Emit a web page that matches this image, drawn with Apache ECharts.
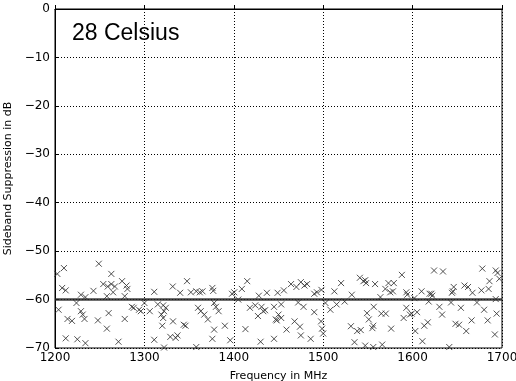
<!DOCTYPE html>
<html>
<head>
<meta charset="utf-8">
<script src="https://cdn.jsdelivr.net/npm/echarts@6/dist/echarts.min.js"></script>
<style>html,body{margin:0;padding:0;background:#fff;}#c{width:516px;height:381px;}</style>
</head>
<body>
<div id="c"></div>
<script>
// Scattered measurements: [frequency MHz, sideband suppression dB]
const scatterPoints = [
  [1202.6,-54.7],[1210,-53.5],[1208,-57.6],[1212,-58.1],[1249,-52.6],[1263,-54.7],[1254,-56.8],
  [1259,-57.3],[1263,-56.8],[1267,-57.3],[1265,-58.5],[1275,-56.2],[1280,-57.1],[1281,-57.8],
  [1243,-58.2],[1229,-59.0],[1234,-59.5],[1258,-59.3],[1278,-59.3],[1204,-62.1],[1224,-60.7],
  [1229,-62.4],[1231,-63.1],[1233,-64.0],[1214,-64.0],[1219,-64.4],[1248,-64.3],[1260,-62.8],
  [1278,-64.0],[1258,-66.0],[1286,-61.5],[1288,-61.7],[1294,-62.1],[1296,-62.4],[1212,-68.0],
  [1225,-68.2],[1234,-69.0],[1271,-68.7],
  [1347.7,-56.2],[1331.7,-57.3],[1311,-58.4],[1340,-58.6],[1352,-58.5],[1358,-58.3],[1362,-58.5],
  [1365,-58.3],[1376,-57.6],[1377,-58.2],[1398,-58.8],[1300,-60.7],[1315,-61.0],[1321,-61.2],
  [1324,-61.7],[1322,-62.4],[1319,-63.1],[1321,-63.8],[1306,-62.4],[1360,-61.7],[1363,-62.4],
  [1367,-63.1],[1371,-64.1],[1378,-60.7],[1380,-61.5],[1383,-62.4],[1332,-64.5],[1344,-65.2],
  [1346,-65.4],[1320,-65.4],[1390,-65.4],[1378,-66.2],[1311,-68.3],[1329,-67.7],[1335,-67.9],
  [1337,-67.4],[1376,-68.1],[1396,-68.4],[1322,-69.9],[1358,-69.8],
  [1415,-56.2],[1409,-57.8],[1400.5,-58.5],[1437,-58.6],[1449,-58.6],[1456,-58.1],[1464,-56.8],
  [1470,-57.4],[1475,-56.4],[1479,-57.1],[1482,-56.8],[1490,-58.8],[1493,-58.5],[1498,-58.0],
  [1428,-59.2],[1405,-60.0],[1418,-61.7],[1424,-61.2],[1431,-61.5],[1433,-62.4],[1435,-62.2],
  [1427,-63.4],[1445,-61.5],[1453,-61.0],[1450,-63.1],[1453,-63.8],[1447,-64.1],[1448,-64.3],
  [1472,-60.6],[1478,-61.5],[1490,-62.6],[1468,-64.5],[1474,-65.6],[1497.6,-64.5],[1498.7,-66.0],
  [1500,-67.0],[1413,-66.1],[1459,-66.2],[1475,-67.4],[1430,-68.7],[1445,-68.1],[1486,-68.1],
  [1520,-56.6],[1512.5,-58.3],[1532,-59.0],[1541,-55.5],[1545,-56.2],[1547,-56.0],[1548,-56.6],
  [1558,-56.8],[1573,-56.6],[1579,-56.6],[1588,-54.9],[1569.5,-57.8],[1575,-58.5],[1578,-58.3],
  [1593,-58.5],[1594,-59.0],[1564,-59.5],[1502.5,-60.7],[1508,-62.1],[1515,-61.0],[1524,-60.4],
  [1549,-62.8],[1556.5,-61.5],[1565,-62.9],[1570,-62.9],[1593,-61.7],[1597,-63.1],[1551,-64.1],
  [1556,-65.4],[1555,-65.9],[1531,-65.5],[1538,-66.5],[1542,-66.3],[1590,-63.8],[1576,-66.0],
  [1535,-68.8],[1547,-69.5],[1556,-69.8],[1566,-69.3],
  [1624,-54.0],[1634,-54.2],[1678,-53.6],[1693,-54.0],[1695,-54.5],[1686,-56.2],[1697,-55.7],
  [1685,-57.8],[1677,-58.1],[1646,-57.4],[1645,-58.3],[1644,-58.6],[1658,-57.1],[1662,-57.4],
  [1667,-58.6],[1610,-58.3],[1619,-58.8],[1621,-58.8],[1622,-59.2],[1602,-59.7],[1618,-60.4],
  [1643,-60.6],[1672,-60.6],[1693,-59.9],[1630,-61.5],[1654,-61.7],[1680,-62.1],[1605,-62.6],
  [1599,-62.9],[1633,-63.1],[1694,-62.9],[1617,-64.7],[1613,-65.4],[1648,-65.0],[1652,-65.2],
  [1666,-64.3],[1684,-64.3],[1603,-66.5],[1660,-66.5],[1692,-67.2],[1611,-68.6],[1641,-69.8]
];
// Dense band of measurements at -60 dB
const bandFreqs = [1200, 1700];
const bandValues = [-60, -60];
const xTicks = [1200, 1300, 1400, 1500, 1600, 1700];
const yTicks = [-70, -60, -50, -40, -30, -20, -10, 0];
const titleText = '28 Celsius';
const xName = 'Frequency in MHz';
const yName = 'Sideband Suppression in dB';

const chart = echarts.init(document.getElementById('c'), null, {renderer: 'canvas'});
const tickFont = {fontFamily: 'DejaVu Sans', fontSize: 12, color: '#000'};
const fmt = v => String(v).replace('-', '\u2212');
chart.setOption({
  animation: false,
  backgroundColor: '#fff',
  title: {
    text: titleText, left: 72, top: 22, padding: 0,
    textStyle: {fontFamily: 'Liberation Sans', fontSize: 23, fontWeight: 'normal', color: '#000'}
  },
  grid: {left: 55, right: 14, top: 9, bottom: 33, show: true, borderColor: '#000', borderWidth: 1,
         backgroundColor: 'transparent', containLabel: false, outerBoundsMode: 'none'},
  xAxis: {
    type: 'value', min: xTicks[0], max: xTicks[xTicks.length - 1], interval: 100,
    name: xName, nameLocation: 'middle', nameGap: 23,
    nameTextStyle: {fontFamily: 'DejaVu Sans', fontSize: 11, color: '#000'},
    axisLine: {show: true, lineStyle: {color: '#000'}},
    axisTick: {show: true, inside: true, length: 4, lineStyle: {color: '#000'}},
    axisLabel: Object.assign({margin: 4, formatter: fmt}, tickFont),
    splitLine: {show: true, lineStyle: {color: '#000', type: [1, 2], width: 1}}
  },
  yAxis: {
    type: 'value', min: yTicks[0], max: yTicks[yTicks.length - 1], interval: 10,
    name: yName, nameLocation: 'middle', nameGap: 38,
    nameTextStyle: {fontFamily: 'DejaVu Sans', fontSize: 11, color: '#000'},
    axisLine: {show: true, lineStyle: {color: '#000'}},
    axisTick: {show: true, inside: true, length: 4, lineStyle: {color: '#000'}},
    axisLabel: Object.assign({margin: 5, formatter: fmt}, tickFont),
    splitLine: {show: true, lineStyle: {color: '#000', type: [1, 2], width: 1}}
  },
  series: [
    {
      type: 'line',
      data: bandFreqs.map((f, i) => [f, bandValues[i]]),
      symbol: 'none',
      lineStyle: {color: '#222', width: 2.5, opacity: 0.85},
      z: 2
    },
    {
      type: 'scatter',
      data: scatterPoints,
      symbol: 'path://M0,0L10,10M10,0L0,10',
      symbolSize: 6,
      itemStyle: {color: 'rgba(0,0,0,0)', borderColor: '#333', borderWidth: 1, opacity: 0.85},
      z: 3
    }
  ]
});
</script>
</body>
</html>
